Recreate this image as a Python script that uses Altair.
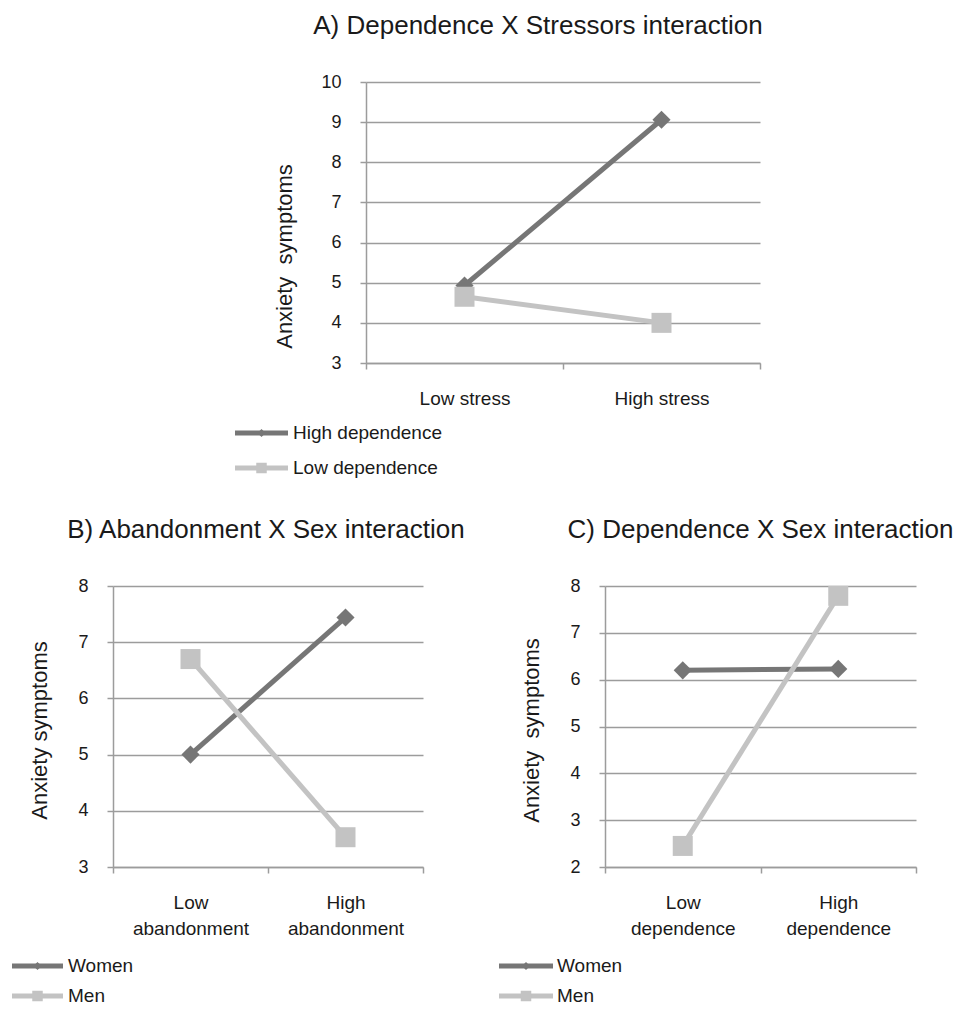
import altair as alt
import pandas as pd

# ---------------- data ----------------
a_title = "A) Dependence X Stressors interaction"
a_categories = ["Low stress", "High stress"]
a_series = ["High dependence", "Low dependence"]
a_high_dependence = [4.93, 9.06]
a_low_dependence = [4.65, 4.00]
a_ticks = [3, 4, 5, 6, 7, 8, 9, 10]

b_title = "B) Abandonment X Sex interaction"
b_categories = ["Low abandonment", "High abandonment"]
b_series = ["Women", "Men"]
b_women = [5.00, 7.44]
b_men = [6.70, 3.53]
b_ticks = [3, 4, 5, 6, 7, 8]

c_title = "C) Dependence X Sex interaction"
c_categories = ["Low dependence", "High dependence"]
c_series = ["Women", "Men"]
c_women = [6.20, 6.23]
c_men = [2.45, 7.79]
c_ticks = [2, 3, 4, 5, 6, 7, 8]

# ---------------- style ----------------
FONT = "Liberation Sans"
TEXT = "#1a1a1a"
DARK = "#767676"
LIGHT = "#c3c3c3"
GRID = "#9c9c9c"


def panel(title, cats, series, values, ticks, ytitle, width, height,
          title_dx, title_y, title_pad, split, leg_x1, leg_x2, leg_tx, leg_range, box):
    rows = []
    for s, vals in zip(series, values):
        for c, v in zip(cats, vals):
            rows.append({"category": c, "series": s, "value": v})
    df = pd.DataFrame(rows)
    leg = pd.DataFrame({"series": series})

    color = alt.Color("series:N", scale=alt.Scale(domain=series, range=[DARK, LIGHT]), legend=None)
    shape = alt.Shape("series:N", scale=alt.Scale(domain=series, range=["diamond", "square"]), legend=None)

    xaxis_kw = dict(
        title=None, tickBand="extent", labelAngle=0, labelFont=FONT, labelFontSize=19,
        labelColor=TEXT, labelPadding=20, labelLineHeight=26, tickSize=6, tickColor=GRID,
        tickWidth=1.5, domainColor=GRID, domainWidth=1.5, grid=False,
    )
    if split:
        xaxis_kw["labelExpr"] = "split(datum.label, ' ')"
    x = alt.X("category:N", sort=cats,
              scale=alt.Scale(type="band", paddingInner=0, paddingOuter=0),
              axis=alt.Axis(**xaxis_kw))
    y = alt.Y("value:Q",
              scale=alt.Scale(domain=[ticks[0], ticks[-1]], nice=False, zero=False),
              axis=alt.Axis(values=ticks, title=ytitle, titleFont=FONT, titleFontSize=22,
                            titleFontWeight="normal", titleColor=TEXT, titlePadding=title_pad,
                            titleY=title_y, labelFont=FONT, labelFontSize=18, labelColor=TEXT,
                            labelPadding=19, tickSize=6, tickColor=GRID, tickWidth=1.5,
                            domainColor=GRID, domainWidth=1.5, grid=True, gridColor=GRID,
                            gridWidth=1.5))

    base = alt.Chart(df)
    lines = base.mark_line(strokeWidth=5, strokeJoin="round").encode(x=x, y=y, color=color)
    points = base.mark_point(filled=True, opacity=1).encode(
        x=x, y=y, color=color, shape=shape,
        size=alt.Size("series:O", scale=alt.Scale(domain=series, range=[330, 400]), legend=None))
    data_layer = alt.layer(lines, points)

    ly = alt.Y("series:N", scale=alt.Scale(domain=series, range=leg_range), axis=None)
    lbase = alt.Chart(leg)
    lrule = lbase.mark_rule(strokeWidth=5).encode(
        x=alt.value(leg_x1), x2=alt.value(leg_x2), y=ly, color=color)
    lpt = lbase.mark_point(filled=True, opacity=1).encode(
        x=alt.value((leg_x1 + leg_x2) / 2), y=ly, color=color, shape=shape,
        size=alt.Size("series:O", scale=alt.Scale(domain=series, range=[64, 110]), legend=None))
    ltext = lbase.mark_text(align="left", baseline="middle", font=FONT, fontSize=19,
                            color=TEXT).encode(x=alt.value(leg_tx), y=ly, text="series:N")
    frame = alt.Chart(pd.DataFrame({"k": [0]})).mark_rect(opacity=0).encode(
        x=alt.value(box[0]), x2=alt.value(box[1]), y=alt.value(0), y2=alt.value(box[2]))
    legend_layer = alt.layer(frame, lrule, lpt, ltext)

    return alt.layer(data_layer, legend_layer).resolve_scale(
        y="independent", size="independent"
    ).properties(
        width=width, height=height,
        title=alt.TitleParams(text=title, anchor="middle", font=FONT, fontSize=26,
                              fontWeight="normal", color=TEXT, offset=13,
                              baseline="alphabetic", dx=title_dx),
    )


chart_a = panel(a_title, a_categories, a_series, [a_high_dependence, a_low_dependence],
                a_ticks, "Anxiety\u00a0 symptoms", 394, 281, -25, 174, 24, False,
                -131, -78, -73, [333.5, 403.5], (-135, 400, 400))
chart_b = panel(b_title, b_categories, b_series, [b_women, b_men],
                b_ticks, "Anxiety symptoms", 310, 281, -2, 144, 26, True,
                -101, -50, -45, [365, 425], (-105, 365, 410))
chart_c = panel(c_title, c_categories, c_series, [c_women, c_men],
                c_ticks, "Anxiety\u00a0 symptoms", 311, 281, 0, 144, 26, True,
                -106, -52, -48, [365, 425], (-110, 345, 410))

# invisible spacer that shifts panel A to the right of panels B/C
spacer = alt.Chart(pd.DataFrame({"k": [0]})).mark_rect(opacity=0).encode(
    x=alt.value(0), x2=alt.value(1), y=alt.value(0), y2=alt.value(1)
).properties(width=1, height=1)

chart = alt.vconcat(
    alt.hconcat(spacer, chart_a, spacing=117),
    alt.hconcat(chart_b, chart_c, spacing=17),
    spacing=35,
).properties(
    padding={"left": 0, "top": 5, "right": 0, "bottom": 0}
).configure_view(strokeWidth=0)

chart.save("out.html", embed_options={"renderer": "svg", "actions": False})
